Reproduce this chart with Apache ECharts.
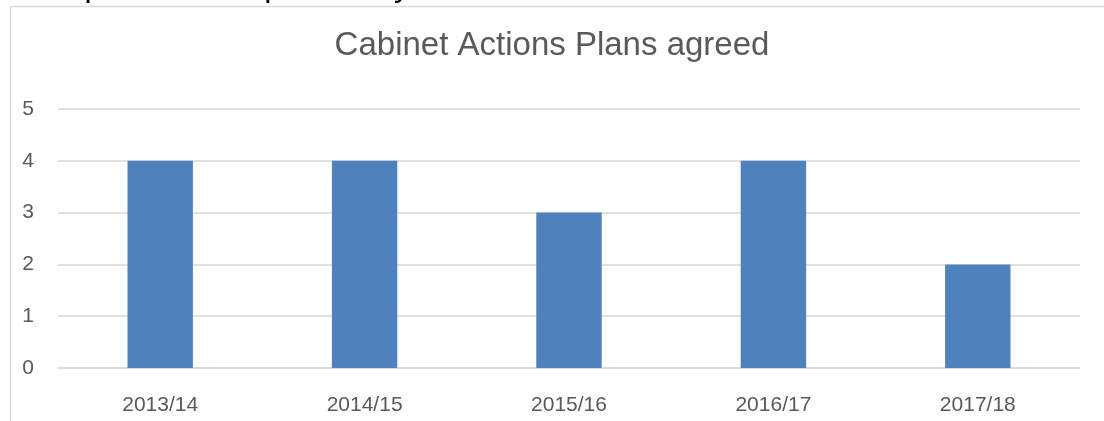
<!DOCTYPE html>
<html>
<head>
<meta charset="utf-8">
<script src="https://cdn.jsdelivr.net/npm/echarts@6/dist/echarts.min.js"></script>
<style>html,body{margin:0;padding:0;background:#fff;}#c{width:1104px;height:421px;}</style>
</head>
<body>
<div id="c"></div>
<script>
const categories = ['2013/14', '2014/15', '2015/16', '2016/17', '2017/18'];
const plansAgreed = [4, 4, 3, 4, 2];
const yTicks = [0, 1, 2, 3, 4, 5];

const chart = echarts.init(document.getElementById('c'));
chart.setOption({
  animation: false,
  backgroundColor: '#ffffff',
  title: {
    text: 'Cabinet Actions Plans agreed',
    left: 'center',
    top: 24,
    textStyle: { fontFamily: 'Liberation Sans', fontSize: 33, fontWeight: 'normal', color: '#595959' }
  },
  graphic: [
    {
      type: 'rect', silent: true, z: -1,
      shape: { x: 10.5, y: 6.5, width: 1200, height: 600 },
      style: { fill: 'none', stroke: '#d9d9d9', lineWidth: 1.5 }
    },
    {
      type: 'text', silent: true,
      x: 17, y: -13,
      style: { text: 'Comparison with previous years', fontFamily: 'Liberation Sans', fontSize: 32, fill: '#000000', verticalAlign: 'middle' }
    }
  ],
  grid: { left: 58, right: 24, top: 109, bottom: 53, containLabel: false },
  xAxis: {
    type: 'category',
    data: categories,
    axisLine: { show: true, lineStyle: { color: '#d9d9d9', width: 1.5 } },
    axisTick: { show: false },
    axisLabel: { margin: 27, fontFamily: 'Liberation Sans', fontSize: 21, color: '#595959' }
  },
  yAxis: {
    type: 'value',
    min: yTicks[0],
    max: yTicks[yTicks.length - 1],
    interval: 1,
    axisLine: { show: false },
    axisTick: { show: false },
    splitLine: { lineStyle: { color: '#d9d9d9', width: 1.5 } },
    axisLabel: { margin: 24, fontFamily: 'Liberation Sans', fontSize: 21, color: '#595959' }
  },
  series: [{
    type: 'bar',
    data: plansAgreed,
    barWidth: '32%',
    itemStyle: { color: '#4f81bd' }
  }]
});
</script>
</body>
</html>
